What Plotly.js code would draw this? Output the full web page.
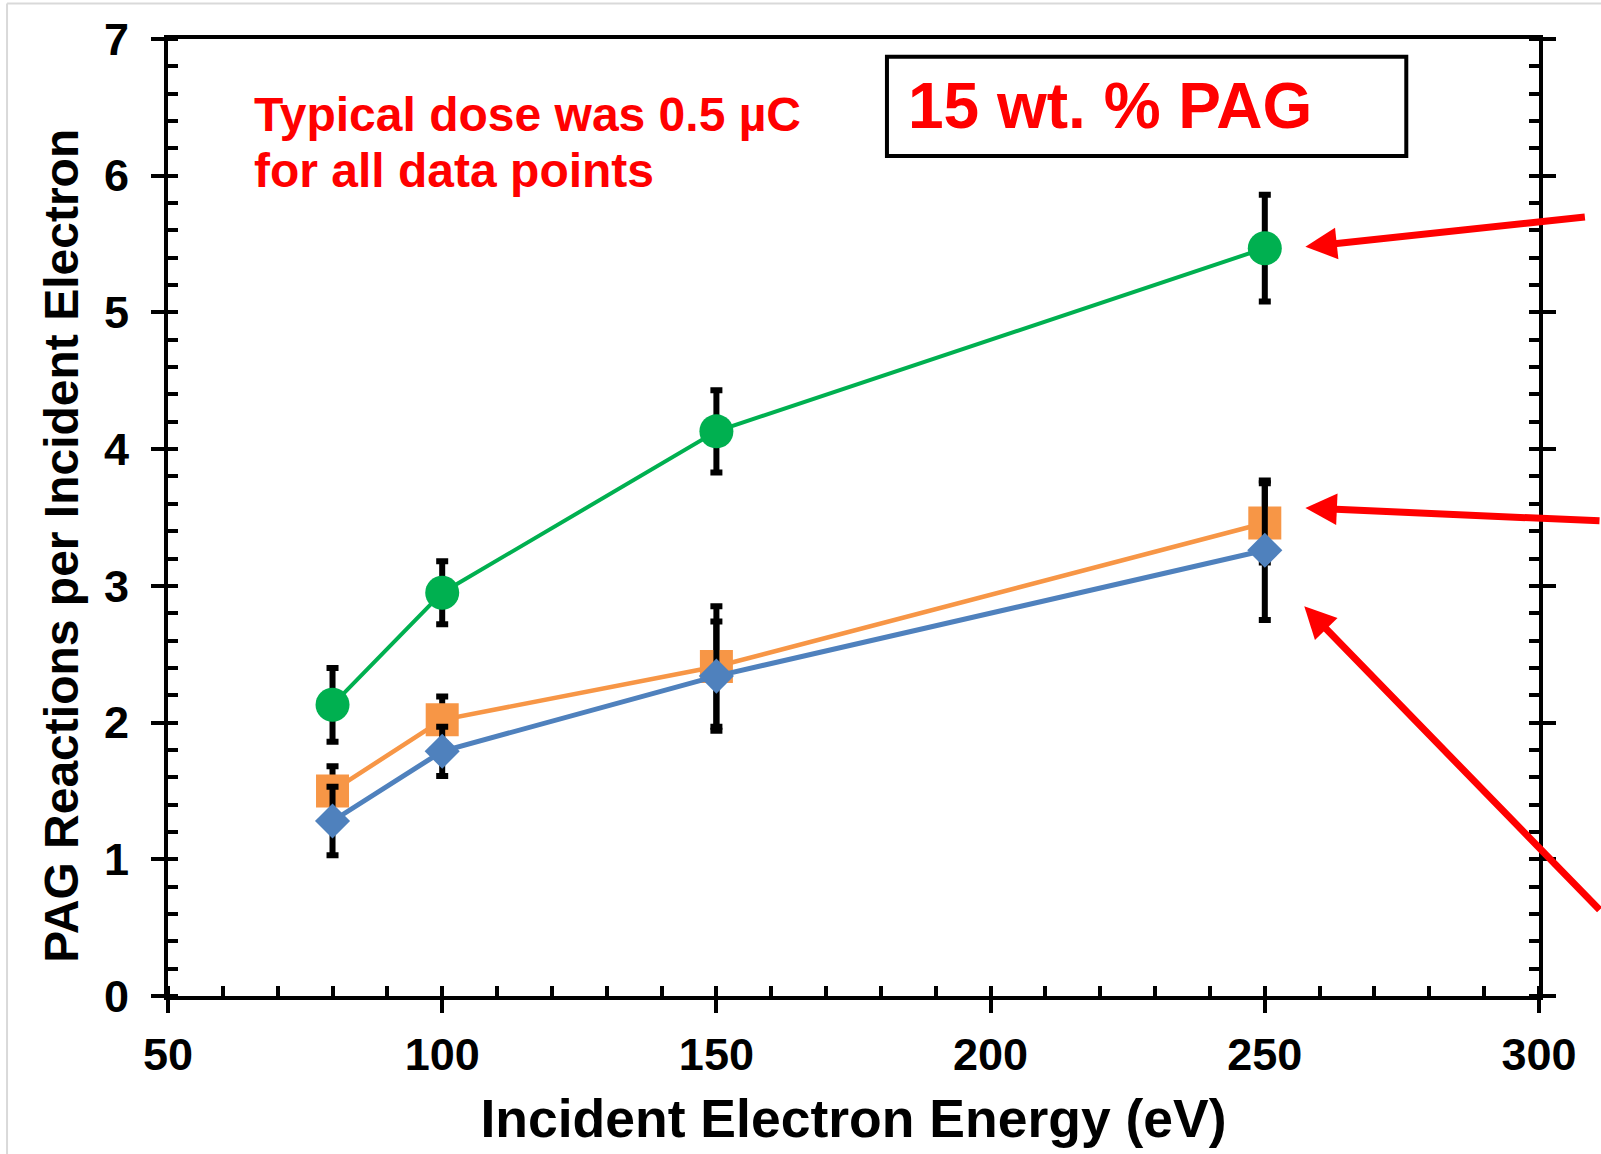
<!DOCTYPE html>
<html>
<head>
<meta charset="utf-8">
<script src="https://cdn.plot.ly/plotly-3.0.1.min.js"></script>
<style>html,body{margin:0;padding:0;background:#fff;}#chart{width:1601px;height:1154px;}</style>
</head>
<body>
<div id="chart"></div>
<script>
// ---- data ----
const energy = [80, 100, 150, 250];            // Incident Electron Energy (eV)
const greenY = [2.13, 2.95, 4.13, 5.47];
const greenErr = [0.27, 0.23, 0.30, 0.39];
const orangeY = [1.50, 2.02, 2.41, 3.46];
const orangeErr = [0.18, 0.17, 0.44, 0.29];
const blueY = [1.28, 1.79, 2.34, 3.26];
const blueErr = [0.25, 0.18, 0.40, 0.51];

const xTitle = 'Incident Electron Energy (eV)';
const yTitle = 'PAG Reactions per Incident Electron';
const noteLine1 = 'Typical dose was 0.5 µC';
const noteLine2 = 'for all data points';
const boxLabel = '15 wt. % PAG';

const FONT = 'Liberation Sans, Arial, Helvetica, sans-serif';
const errStyle = {type: 'data', visible: true, color: '#000000', thickness: 6, width: 6};

const traces = [
  {x: energy, y: greenY, error_y: Object.assign({array: greenErr}, errStyle),
   mode: 'lines+markers', line: {color: '#00B050', width: 4},
   marker: {symbol: 'circle', size: 34, color: '#00B050'}, showlegend: false},
  {x: energy, y: orangeY, error_y: Object.assign({array: orangeErr}, errStyle),
   mode: 'lines+markers', line: {color: '#F79646', width: 4.5},
   marker: {symbol: 'square', size: 33, color: '#F79646'}, showlegend: false},
  {x: energy, y: blueY, error_y: Object.assign({array: blueErr}, errStyle),
   mode: 'lines+markers', line: {color: '#4F81BD', width: 5},
   marker: {symbol: 'diamond', size: 27, color: '#4F81BD'}, showlegend: false}
];

const axisCommon = {showgrid: false, zeroline: false, linecolor: '#000', linewidth: 4,
  tickcolor: '#000', tickwidth: 4, ticklen: 13};

const layout = {
  width: 1601, height: 1154,
  margin: {l: 168, r: 62, t: 39, b: 158},
  paper_bgcolor: '#ffffff', plot_bgcolor: '#ffffff',
  font: {family: FONT, color: '#000'},
  showlegend: false,
  xaxis: Object.assign({}, axisCommon, {
    range: [50, 300], dtick: 50, tick0: 50, ticks: 'outside', showline: true, mirror: true,
    tickfont: {family: FONT, size: 45, weight: 'bold', color: '#000'},
    ticklabelstandoff: 3,
    minor: {dtick: 10, ticks: 'inside', ticklen: 10, tickwidth: 4, tickcolor: '#000'},
    title: {text: xTitle, font: {family: FONT, size: 53.5, weight: 'bold', color: '#000'}, standoff: 22}
  }),
  yaxis: Object.assign({}, axisCommon, {
    range: [0, 7], dtick: 1, ticks: 'outside', showline: true, mirror: 'ticks',
    tickfont: {family: FONT, size: 45, weight: 'bold', color: '#000'},
    ticklabelstandoff: 13,
    minor: {dtick: 0.2, ticks: 'inside', ticklen: 10, tickwidth: 4, tickcolor: '#000'}
  }),
  xaxis2: Object.assign({}, axisCommon, {
    overlaying: 'x', anchor: 'y', side: 'bottom', range: [50, 300], dtick: 50, tick0: 50,
    ticks: 'inside', showline: false, showticklabels: false
  }),
  yaxis2: Object.assign({}, axisCommon, {
    overlaying: 'y', anchor: 'x', side: 'left', range: [0, 7], dtick: 1,
    ticks: 'inside', showline: true, mirror: 'ticks', showticklabels: false
  }),
  shapes: [
    {type: 'rect', xref: 'x', yref: 'y', x0: 181.1, x1: 275.8, y0: 6.145, y1: 6.87,
     line: {color: '#000', width: 4}, fillcolor: 'rgba(0,0,0,0)'},
    {type: 'line', xref: 'paper', yref: 'paper', x0: -0.1174, x1: -0.1174, y0: 1.037, y1: -0.2,
     line: {color: '#D9D9D9', width: 2}},
    {type: 'line', xref: 'paper', yref: 'paper', x0: -0.1174, x1: 1.1, y0: 1.037, y1: 1.037,
     line: {color: '#D9D9D9', width: 2}}
  ],
  annotations: [
    {xref: 'paper', yref: 'paper', x: -0.0777, y: 0.471, text: yTitle, textangle: -90,
     showarrow: false, xanchor: 'center', yanchor: 'middle',
     font: {family: FONT, size: 48, weight: 'bold', color: '#000'}},
    {xref: 'x', yref: 'y', x: 65.4, y: 6.451, text: noteLine1, showarrow: false,
     xanchor: 'left', yanchor: 'middle', font: {family: FONT, size: 48, weight: 'bold', color: '#FF0000'}},
    {xref: 'x', yref: 'y', x: 65.4, y: 6.039, text: noteLine2, showarrow: false,
     xanchor: 'left', yanchor: 'middle', font: {family: FONT, size: 48, weight: 'bold', color: '#FF0000'}},
    {xref: 'x', yref: 'y', x: 184.5, y: 6.507, text: boxLabel, showarrow: false,
     xanchor: 'left', yanchor: 'middle', font: {family: FONT, size: 64, weight: 'bold', color: '#FF0000'}},
    // red pointer arrows
    {xref: 'x', yref: 'y', x: 257.4, y: 5.48, text: '', showarrow: true, axref: 'pixel', ayref: 'pixel',
     ax: 281, ay: -30, arrowhead: 2, arrowsize: 0.9, arrowwidth: 7, arrowcolor: '#FF0000', standoff: 0},
    {xref: 'x', yref: 'y', x: 257.4, y: 3.57, text: '', showarrow: true, axref: 'pixel', ayref: 'pixel',
     ax: 325, ay: 13, arrowhead: 2, arrowsize: 0.9, arrowwidth: 7, arrowcolor: '#FF0000', standoff: 0},
    {xref: 'x', yref: 'y', x: 257.2, y: 2.85, text: '', showarrow: true, axref: 'pixel', ayref: 'pixel',
     ax: 335, ay: 305, arrowhead: 2, arrowsize: 0.9, arrowwidth: 7, arrowcolor: '#FF0000', standoff: 0}
  ]
};

Plotly.newPlot('chart', traces, layout, {staticPlot: true, displayModeBar: false});
</script>
</body>
</html>
